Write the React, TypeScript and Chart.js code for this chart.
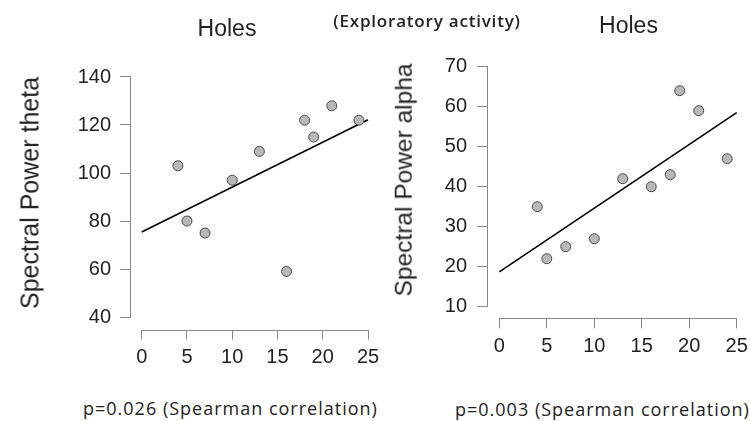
import React, { useEffect, useRef } from "react";
import { Chart, registerables } from "chart.js";

Chart.register(...registerables);

// ---- data ----
const holes = [4, 5, 7, 10, 13, 16, 18, 19, 21, 24];
const theta = [103, 80, 75, 97, 109, 59, 122, 115, 128, 122];
const alpha = [35, 22, 25, 27, 42, 40, 43, 64, 59, 47];
const fitX = [0, 25];
const thetaFit = [75.4, 122.2];
const alphaFit = [18.7, 58.5];
const xTicks = [0, 5, 10, 15, 20, 25];
const thetaTicks = [40, 60, 80, 100, 120, 140];
const alphaTicks = [10, 20, 30, 40, 50, 60, 70];

const TICK_FONT = "'Liberation Sans', Arial, sans-serif";
const AXIS_COLOR = "#888";

type PanelCfg = {
  left: number; top: number; w: number; h: number;
  xa: [number, number, number, number];
  ya: [number, number, number, number];
  area: { l: number; t: number; r: number; b: number };
  xs: number[]; ys: number[];
  fitY: number[];
  yTicks: number[];
  yPad: number;
};

const leftCfg: PanelCfg = {
  left: 0, top: 0, w: 380, h: 380,
  xa: [0, 141.7, 25, 368],
  ya: [140, 77, 40, 317],
  area: { l: 131, t: 70, r: 373, b: 329.5 },
  xs: holes, ys: theta, fitY: thetaFit, yTicks: thetaTicks, yPad: 9,
};

const rightCfg: PanelCfg = {
  left: 380, top: 0, w: 370, h: 380,
  xa: [0, 499.3, 25, 736.7],
  ya: [70, 66.7, 10, 306.7],
  area: { l: 488, t: 60, r: 740, b: 318.3 },
  xs: holes, ys: alpha, fitY: alphaFit, yTicks: alphaTicks, yPad: 10,
};

function valAt(a: [number, number, number, number], px: number) {
  const [v1, p1, v2, p2] = a;
  return v1 + ((px - p1) * (v2 - v1)) / (p2 - p1);
}

const axisLinesPlugin = {
  id: "axisLines",
  afterDraw(chart: any, _args: any, opts: any) {
    const { ctx, chartArea, scales } = chart;
    const xs = scales.x, ys = scales.y;
    const yt: number[] = opts.yTicks;
    const xt: number[] = opts.xTicks;
    ctx.save();
    ctx.strokeStyle = AXIS_COLOR;
    ctx.lineWidth = 1;
    const ax = Math.round(chartArea.left) - 0.5;
    ctx.beginPath();
    ctx.moveTo(ax, ys.getPixelForValue(yt[0]));
    ctx.lineTo(ax, ys.getPixelForValue(yt[yt.length - 1]));
    ctx.stroke();
    const ay = Math.round(chartArea.bottom) + 0.5;
    ctx.beginPath();
    ctx.moveTo(xs.getPixelForValue(xt[0]), ay);
    ctx.lineTo(xs.getPixelForValue(xt[xt.length - 1]), ay);
    ctx.stroke();
    ctx.restore();
  },
};

function Panel({ cfg }: { cfg: PanelCfg }) {
  const ref = useRef<HTMLCanvasElement>(null);
  useEffect(() => {
    const { area } = cfg;
    const xHeight = 40;
    const yWidth = area.l - cfg.left;
    const chart = new Chart(ref.current!, {
      type: "scatter",
      data: {
        datasets: [
          {
            type: "scatter",
            data: cfg.xs.map((x, i) => ({ x, y: cfg.ys[i] })),
            pointRadius: 5,
            pointHoverRadius: 5,
            backgroundColor: "#b8b8b8",
            borderColor: "#4a4a4a",
            borderWidth: 1,
          },
          {
            type: "line",
            data: fitX.map((x, i) => ({ x, y: cfg.fitY[i] })),
            borderColor: "#000",
            borderWidth: 1.6,
            pointRadius: 0,
            fill: false,
          } as any,
        ],
      },
      options: {
        animation: false,
        responsive: false,
        maintainAspectRatio: false,
        layout: {
          padding: {
            left: 0,
            top: area.t - cfg.top,
            right: cfg.left + cfg.w - area.r,
            bottom: cfg.top + cfg.h - area.b - xHeight,
          },
        },
        plugins: {
          legend: { display: false },
          tooltip: { enabled: false },
          axisLines: { yTicks: cfg.yTicks, xTicks },
        } as any,
        scales: {
          x: {
            type: "linear",
            min: valAt(cfg.xa, area.l),
            max: valAt(cfg.xa, area.r),
            afterBuildTicks: (s: any) => {
              s.ticks = xTicks.map((v) => ({ value: v }));
            },
            afterFit: (s: any) => {
              s.height = xHeight;
              s.paddingLeft = 0; s.paddingRight = 0; s.paddingTop = 0; s.paddingBottom = 0;
            },
            border: { display: false },
            grid: { drawOnChartArea: false, drawTicks: true, tickLength: 10, color: AXIS_COLOR, lineWidth: 1 },
            ticks: {
              color: "#222",
              padding: 6,
              maxRotation: 0,
              autoSkip: false,
              font: { family: TICK_FONT, size: 20 },
              callback: (v: any) => String(v),
            },
          },
          y: {
            type: "linear",
            min: valAt(cfg.ya, area.b),
            max: valAt(cfg.ya, area.t),
            afterBuildTicks: (s: any) => {
              s.ticks = cfg.yTicks.map((v) => ({ value: v }));
            },
            afterFit: (s: any) => {
              s.width = yWidth;
              s.paddingLeft = 0; s.paddingRight = 0; s.paddingTop = 0; s.paddingBottom = 0;
            },
            border: { display: false },
            grid: { drawOnChartArea: false, drawTicks: true, tickLength: 11, color: AXIS_COLOR, lineWidth: 1 },
            ticks: {
              color: "#222",
              padding: cfg.yPad,
              autoSkip: false,
              font: { family: TICK_FONT, size: 20 },
              callback: (v: any) => String(v),
            },
          },
        },
      },
      plugins: [axisLinesPlugin],
    });
    return () => chart.destroy();
  }, [cfg]);
  return (
    <canvas
      ref={ref}
      width={cfg.w}
      height={cfg.h}
      style={{ position: "absolute", left: cfg.left, top: cfg.top, width: cfg.w, height: cfg.h }}
    />
  );
}

const ARIAL = "'Liberation Sans', Arial, sans-serif";
const SEGOE = "'Open Sans', 'Noto Sans', sans-serif";

function Txt(props: {
  text: string; x: number; baseline: number; size: number; family: string;
  weight?: number; center?: boolean; asc: number; spacing?: number;
}) {
  const { text, x, baseline, size, family, weight, center, asc, spacing } = props;
  return (
    <div
      style={{
        position: "absolute",
        left: x,
        top: baseline - asc * size,
        fontFamily: family,
        fontSize: size,
        fontWeight: weight ?? 400,
        letterSpacing: spacing ?? 0,
        lineHeight: 1,
        whiteSpace: "nowrap",
        color: "#222",
        transform: center ? "translateX(-50%)" : undefined,
      }}
    >
      {text}
    </div>
  );
}

function VTxt(props: { text: string; cx: number; cy: number; size: number }) {
  const { text, cx, cy, size } = props;
  return (
    <div
      style={{
        position: "absolute",
        left: cx,
        top: cy,
        fontFamily: ARIAL,
        fontSize: size,
        lineHeight: 1,
        whiteSpace: "nowrap",
        color: "#222",
        transform: "translate(-50%, -50%) rotate(-90deg)",
      }}
    >
      {text}
    </div>
  );
}

export default function App() {
  return (
    <div
      style={{
        position: "absolute",
        left: 0,
        top: 0,
        width: 750,
        height: 421,
        background: "#fff",
        overflow: "hidden",
      }}
    >
      <Panel cfg={leftCfg} />
      <Panel cfg={rightCfg} />
      <Txt text="Holes" x={227} baseline={36} size={23} family={ARIAL} center asc={0.8465} />
      <Txt text="Holes" x={628.5} baseline={33} size={23} family={ARIAL} center asc={0.8465} />
      <Txt text="(Exploratory activity)" x={427} baseline={27} size={17} family={SEGOE} weight={600} center asc={0.888} spacing={0.8} />
      <VTxt text="Spectral Power theta" cx={29.5} cy={192.5} size={25} />
      <VTxt text="Spectral Power alpha" cx={404} cy={180} size={24.5} />
      <Txt text="p=0.026 (Spearman correlation)" x={83} baseline={415} size={18} family={SEGOE} asc={0.888} spacing={1} />
      <Txt text="p=0.003 (Spearman correlation)" x={455} baseline={416} size={18} family={SEGOE} asc={0.888} spacing={1} />
    </div>
  );
}
